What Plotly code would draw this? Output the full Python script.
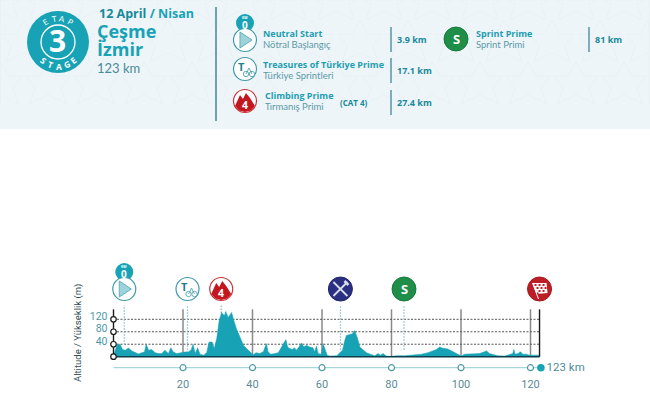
import plotly.graph_objects as go

# ---------- data ----------
profile_km = [0, 0.5, 1, 1.9, 2.6, 3.4, 4.3, 5.3, 6.2, 7.2, 8.1, 8.9, 9.4, 10.1, 11, 12, 12.9, 13.9, 14.8, 15.8,
              16.5, 17.2, 18.2, 19.2, 20.6, 21.6, 22.3, 22.9, 23.5, 24.2, 24.9, 25.9, 26.8, 27.5, 28.4, 29, 29.7,
              30.4, 31.1, 31.9, 32.3, 33, 34, 34.5, 35.4, 36.4, 37.4, 38.3, 39.3, 40.2, 41, 42.1, 43.1, 43.75, 44,
              44.5, 45.2, 46.4, 47.4, 48.35, 49.3, 49.6, 50.1, 50.7, 51.5, 52, 52.7, 53.6, 54.1, 54.8, 55.5, 56.5,
              57.4, 57.9, 58.4, 58.9, 59.8, 60.3, 60.8, 61.5, 62.2, 63.2, 64.3, 65.1, 65.9, 66.55, 67, 68, 68.75,
              69.4, 70.1, 70.9, 71.8, 72.8, 73.9, 75.2, 76.1, 76.8, 77.6, 78.5, 79.5, 81.4, 83.8, 86.7, 88.6, 90.5,
              91.9, 92.9, 93.85, 94.8, 96.2, 97.7, 99.1, 100.1, 101, 102.5, 103.9, 105.3, 106.8, 107.3, 108.2,
              109.2, 110.6, 112.5, 114, 114.9, 115.2, 115.6, 116.4, 117.1, 117.8, 118.8, 119.7, 120.7, 121.6, 122.6]
profile_alt = [5, 21, 37, 40, 23, 21, 28, 18, 13, 9, 13, 15, 40, 21, 23, 13, 10, 10, 21, 10,
               29, 15, 10, 13, 15, 16, 21, 40, 10, 29, 8, 5, 13, 47, 47, 26, 58,
               115, 142, 131, 145, 126, 142, 121, 89, 63, 37, 26, 16, 6, 13, 10, 16, 31, 42,
               16, 8, 10, 13, 31, 47, 55, 31, 26, 23, 29, 21, 37, 44, 31, 37, 31,
               29, 16, 34, 10, 8, 42, 23, 5, 2, 3, 3, 13, 21, 52, 68, 71, 74,
               84, 63, 31, 21, 13, 8, 3, 10, 5, 10, 2, 1, 3, 3, 6, 8, 13,
               19, 23, 31, 27, 25, 16, 8, 2, 8, 9, 8, 10, 16, 19, 10,
               8, 3, 2, 6, 10, 23, 8, 10, 16, 8, 8, 5, 6, 5, 5]
distance_ticks = [20, 40, 60, 80, 100, 120]
altitude_ticks = [40, 80, 120]
route_end_km = 122.6
total_km = 123
marker_km = {"neutral": 3.1, "treasure": 21.3, "climb": 31.0, "food": 65.3, "sprint": 83.6, "finish": 122.6}
guide_km = [3.1, 21.3, 31.0, 65.3, 83.6]
guide_bottom_alt = [38, 22, 140, 22, 22]

# ---------- page geometry ----------
W, H = 650, 393
X0, PXKM = 113.5, 3.475
Y0, PXM = 356.7, 0.3117
TOP_ALT = 152
ROW_ALT = -35.3
ICON_Y = 289
TEAL = "#17a3b5"
DTEAL = "#18899b"
GREY = "#5f9aa6"

def px(x):
    return x / W
def py(y):
    return 1 - y / H
def kmx(k):
    return X0 + PXKM * k

shapes, notes = [], []

def circle(cx, cy, r, fill="white", line=None, lw=1.3):
    shapes.append(dict(type="circle", xref="paper", yref="paper", x0=px(cx - r), x1=px(cx + r),
                       y0=py(cy + r), y1=py(cy - r), fillcolor=fill,
                       line=dict(color=line or fill, width=lw if line else 0)))

def poly(pts, fill=None, line=None, lw=1, close=True, dash=None):
    d = "M" + " L".join(f"{px(a):.5f},{py(b):.5f}" for a, b in pts) + (" Z" if close else "")
    ln = dict(color=line, width=lw) if line else dict(width=0)
    if dash:
        ln["dash"] = dash
    s = dict(type="path", xref="paper", yref="paper", path=d, line=ln)
    if fill:
        s["fillcolor"] = fill
    shapes.append(s)

def text(x, y, t, size=9.5, color=DTEAL, bold=False, anchor="left", font=None, angle=0):
    notes.append(dict(xref="paper", yref="paper", x=px(x), y=py(y), text=f"<b>{t}</b>" if bold else t,
                      showarrow=False, xanchor=anchor, yanchor="middle", textangle=angle,
                      font=dict(size=size, color=color, family=font or ("Open Sans" if bold else "Lato")),
                      borderpad=0, borderwidth=0))

# ---------- header band ----------
shapes.append(dict(type="rect", xref="paper", yref="paper", x0=0, x1=1, y0=py(129), y1=1,
                   fillcolor="#eef5f9", line=dict(width=0), layer="below"))
for j in range(0, 4):
    for i in range(-1, 15):
        cx, cy = i * 48 + (24 if j % 2 else 0), j * 42
        star = [(cx, cy - 22), (cx + 8, cy - 8), (cx + 22, cy - 8), (cx + 13, cy + 4), (cx + 18, cy + 20),
                (cx, cy + 11), (cx - 18, cy + 20), (cx - 13, cy + 4), (cx - 22, cy - 8), (cx - 8, cy - 8)]
        if max(b for _, b in star) > 127:
            continue
        d = "M" + " L".join(f"{px(max(min(a, W), 0)):.5f},{py(max(b, 0)):.5f}" for a, b in star) + " Z"
        shapes.append(dict(type="path", xref="paper", yref="paper", path=d, layer="below",
                           line=dict(color="#e8f1f6", width=1)))

# stage badge
circle(58, 42, 31, TEAL)
circle(58, 42, 17, TEAL, "white", 1.3)
text(58, 41, "3", 30, "white", True, "center")
for letter, a, sx, sy in [("E", -32, 45.5, 22), ("T", -11, 54, 19), ("A", 11, 62, 19), ("P", 32, 70.5, 22)]:
    text(sx, sy, letter, 8, "white", False, "center", angle=a)
for letter, a, sx, sy in [("S", 38, 43.5, 60.5), ("T", 19, 50.5, 64.5), ("A", 0, 58.5, 66), ("G", -19, 66.5, 64.5), ("E", -38, 73, 60.5)]:
    text(sx, sy, letter, 8.5, "white", True, "center", angle=a)

notes.append(dict(xref="paper", yref="paper", x=px(97), y=py(14), showarrow=False, xanchor="left", yanchor="middle",
                  text="<b>12 April</b><b style='color:#17a3b5'> / Nisan</b>",
                  font=dict(size=12.5, color=DTEAL, family="Open Sans")))
text(97, 31, "Çeşme", 18, TEAL, True)
text(97, 49, "İzmir", 18, TEAL, True)
text(97, 68, "123 km", 13, "#4a8a96")
poly([(216, 7), (216, 121)], line="#3f8793", lw=1.5, close=False)

def km_badge(cx, cy):
    circle(cx, cy, 9, TEAL)
    text(cx, cy - 6, "KM", 3.5, "white", True, "center")
    text(cx, cy + 2, "0", 10, "white", True, "center")

def neutral(cx, cy):
    circle(cx, cy, 11.5, "white", "#3f9aa8", 1.2)
    poly([(cx - 5, cy - 8), (cx + 7, cy), (cx - 5, cy + 8)], fill="#9fd3dc", line="#5fb0bd", lw=1)

def treasure(cx, cy):
    circle(cx, cy, 11.5, "white", "#3f9aa8", 1.2)
    text(cx - 3, cy - 3, "T", 11, "#1c7f8e", True, "center")
    circle(cx + 1, cy + 5, 2.7, "white", "#3f9aa8", 0.8)
    circle(cx + 7, cy + 5, 2.7, "white", "#3f9aa8", 0.8)
    poly([(cx + 1, cy + 5), (cx + 4, cy - 1), (cx + 7, cy + 5)], line="#3f9aa8", lw=0.8, close=False)

def climb(cx, cy):
    circle(cx, cy, 11.5, "white", "#c8343c", 1.2)
    poly([(cx - 10, cy + 5), (cx - 5, cy - 6), (cx - 2, cy - 2), (cx + 1, cy - 8), (cx + 5, cy - 3), (cx + 10, cy + 5),
          (cx + 6, cy + 9.5), (cx, cy + 11), (cx - 6, cy + 9.5)], fill="#c3161f")
    text(cx, cy + 3.5, "4", 10.5, "white", True, "center")

def sprint(cx, cy):
    circle(cx, cy, 12, "#1f8e48", "#167a3c", 1)
    text(cx, cy, "S", 13, "white", True, "center")

def food(cx, cy):
    circle(cx, cy, 12, "#2a2f82", "#20246a", 1)
    poly([(cx - 7, cy - 7), (cx + 7, cy + 7)], line="#d8dce8", lw=1.8, close=False)
    poly([(cx + 7, cy - 7), (cx - 7, cy + 7)], line="#d8dce8", lw=1.8, close=False)
    poly([(cx + 4, cy - 8), (cx + 8, cy - 4)], line="#d8dce8", lw=2.5, close=False)

def finish(cx, cy):
    circle(cx, cy, 12, "#bd1e26", "#a8181f", 1)
    poly([(cx - 7, cy - 6), (cx + 7, cy - 6), (cx + 8, cy + 4), (cx - 3, cy + 5)], fill="white")
    for a, b in [(-5, -5), (-1, -5), (3, -5), (-3, -2), (1, -2), (5, -2), (-1, 1), (3, 1), (-3, 3.5)]:
        poly([(cx + a, cy + b), (cx + a + 2, cy + b), (cx + a + 2, cy + b + 2), (cx + a, cy + b + 2)], fill="#bd1e26")
    poly([(cx - 7, cy - 6), (cx - 1, cy + 10)], line="white", lw=1, close=False)

# header legend rows
km_badge(245, 23)
neutral(245, 40)
treasure(245, 69)
climb(245, 101)
sprint(456, 39)
rows = [
    (263, 33.5, "Neutral Start", "Nötral Başlangıç", 391, 27, 52, 397, "3.9 km"),
    (263, 65, "Treasures of Türkiye Prime", "Türkiye Sprintleri", 391, 58, 83, 397, "17.1 km"),
    (265, 96, "Climbing Prime", "Tırmanış Primi", 391, 90, 115, 397, "27.4 km"),
    (476, 33.5, "Sprint Prime", "Sprint Primi", 589, 27, 52, 595, "81 km"),
]
for x, y, en, tr, dx, d0, d1, kx, km in rows:
    text(x, y, en, 9, "#1f9db0", True)
    text(x, y + 10.8, tr, 9.5, "#5b9aa6")
    poly([(dx, d0), (dx, d1)], line="#2f7f8e", lw=1.2, close=False)
    text(kx, (d0 + d1) / 2, km, 9, DTEAL, True)
text(340, 102, "(CAT 4)", 8, DTEAL, True)

# route icons, placed from their kilometre positions
km_badge(kmx(marker_km["neutral"]), 272)
neutral(kmx(marker_km["neutral"]), ICON_Y)
treasure(kmx(marker_km["treasure"]), ICON_Y)
climb(kmx(marker_km["climb"]), ICON_Y)
food(kmx(marker_km["food"]), ICON_Y)
sprint(kmx(marker_km["sprint"]), ICON_Y)
finish(kmx(marker_km["finish"]), ICON_Y)

text(78, 333, "Altitude / Yükseklik (m)", 9.5, "#2f4d57", False, "center", "Roboto", -90)

# ---------- chart traces ----------
fig = go.Figure()
none = dict(hoverinfo="skip", showlegend=False)

vx, vy = [], []
for k in distance_ticks:
    vx += [k, k, None]
    vy += [0, TOP_ALT, None]
fig.add_trace(go.Scatter(x=vx, y=vy, mode="lines", line=dict(color="#8a8a8a", width=1.5), **none))

gx, gy = [], []
for a in altitude_ticks:
    gx += [0, route_end_km, None]
    gy += [a, a, None]
fig.add_trace(go.Scatter(x=gx, y=gy, mode="lines", line=dict(color="#555555", width=1, dash="2px,1.5px"), **none))

dx_, dy_ = [], []
for k, b in zip(guide_km, guide_bottom_alt):
    dx_ += [k, k, None]
    dy_ += [b, TOP_ALT + 13, None]
fig.add_trace(go.Scatter(x=dx_, y=dy_, mode="lines", line=dict(color="#86c3cc", width=1.3, dash="1.5px,1.5px"), **none))

fig.add_trace(go.Scatter(x=profile_km, y=profile_alt, mode="lines", fill="tozeroy", fillcolor=TEAL,
                         line=dict(color=TEAL, width=0.5), **none))

fig.add_trace(go.Scatter(x=[0, route_end_km], y=[0, 0], mode="lines", line=dict(color="#0d3f4c", width=1.6), **none))
fig.add_trace(go.Scatter(x=[0, 0, None, route_end_km, route_end_km], y=[0, TOP_ALT, None, 0, TOP_ALT], mode="lines",
                         line=dict(color="#1a1a1a", width=1.4), **none))
fig.add_trace(go.Scatter(x=[0] * (len(altitude_ticks) + 1), y=[0] + altitude_ticks, mode="markers",
                         marker=dict(size=5.5, color="white", line=dict(color="#1a1a1a", width=1.2)), **none))

fig.add_trace(go.Scatter(x=[0, total_km], y=[ROW_ALT, ROW_ALT], mode="lines", line=dict(color="#a9d6dc", width=1.2), **none))
fig.add_trace(go.Scatter(x=distance_ticks, y=[ROW_ALT] * len(distance_ticks), mode="markers",
                         marker=dict(size=6, color="white", line=dict(color="#4c9aa6", width=1.2)), **none))
fig.add_trace(go.Scatter(x=[total_km], y=[ROW_ALT], mode="markers+text", text=[f"{total_km} km"], textposition="middle right",
                         textfont=dict(size=11.5, color="#4e8d99", family="Roboto"),
                         marker=dict(size=7.5, color=TEAL), **none))

fig.update_layout(
    width=W, height=H, margin=dict(l=0, r=0, t=0, b=0), paper_bgcolor="white", plot_bgcolor="rgba(0,0,0,0)",
    shapes=shapes, annotations=notes, showlegend=False,
    xaxis=dict(range=[-X0 / PXKM, (W - X0) / PXKM], domain=[0, 1], anchor="free", position=(H - 376) / H,
               tickmode="array", tickvals=distance_ticks, ticktext=[str(k) for k in distance_ticks],
               showgrid=False, zeroline=False, showline=False, ticks="",
               tickfont=dict(size=11, color="#5b8b95", family="Roboto")),
    yaxis=dict(range=[-(H - Y0) / PXM, Y0 / PXM], domain=[0, 1], anchor="free", position=(X0 - 6) / W,
               tickmode="array", tickvals=altitude_ticks, ticktext=[str(a) for a in altitude_ticks],
               showgrid=False, zeroline=False, showline=False, ticks="", ticklabelshift=-3,
               tickfont=dict(size=10.5, color="#4e97a5", family="Roboto")),
)

fig.write_html("out.html", config=dict(displayModeBar=False),
               post_script="document.body.style.margin='0';document.body.style.overflow='hidden';")
